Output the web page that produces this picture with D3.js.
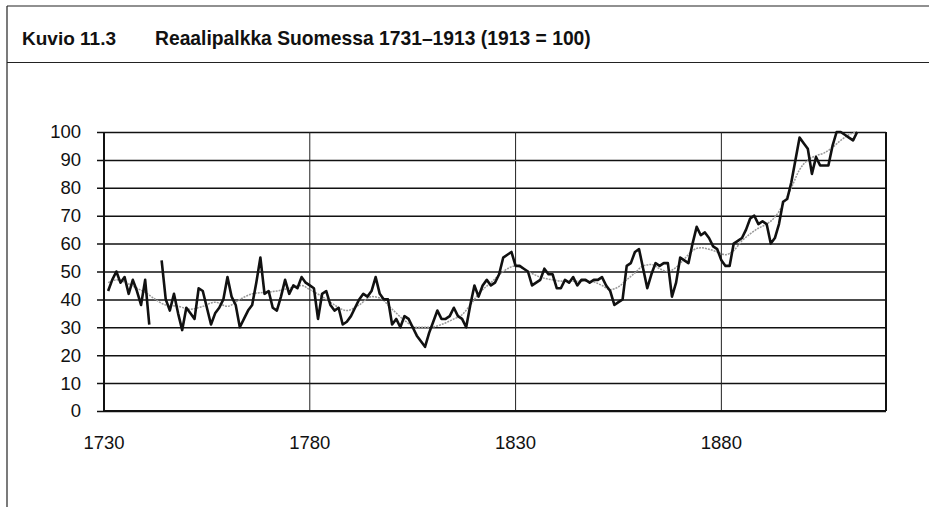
<!DOCTYPE html>
<html>
<head>
<meta charset="utf-8">
<script src="https://cdn.jsdelivr.net/npm/d3@7"></script>
<style>
  body { margin: 0; background: white; }
  svg { display: block; }
</style>
</head>
<body>
<script>
const svg_width = 929;
const svg_height = 507;
const font_family = "'Liberation Sans', Arial, sans-serif";

const figure_label = 'Kuvio 11.3';
const figure_title = 'Reaalipalkka Suomessa 1731–1913 (1913 = 100)';

const start_year = 1731;
// real wage index, 1913 = 100 (null = no data)
const wages = [
    43, 47, 50, 46, 48, 42, 47, 43, 38, 47,       // 1731-1740
    31, null, null, 54, 40, 36, 42, 35, 29, 37,   // 1741-1750
    35, 33, 44, 43, 37, 31, 35, 37, 40, 48,       // 1751-1760
    41, 38, 30, 33, 36, 38, 46, 55, 42, 43,       // 1761-1770
    37, 36, 41, 47, 42, 45, 44, 48, 46, 45,       // 1771-1780
    44, 33, 42, 43, 38, 36, 37, 31, 32, 34,       // 1781-1790
    37, 40, 42, 41, 43, 48, 42, 40, 40, 31,       // 1791-1800
    33, 30, 34, 33, 30, 27, 25, 23, 28, 32,       // 1801-1810
    36, 33, 33, 34, 37, 34, 33, 30, 38, 45,       // 1811-1820
    41, 45, 47, 45, 46, 49, 55, 56, 57, 52,       // 1821-1830
    52, 51, 50, 45, 46, 47, 51, 49, 49, 44,       // 1831-1840
    44, 47, 46, 48, 45, 47, 47, 46, 47, 47,       // 1841-1850
    48, 45, 43, 38, 39, 40, 52, 53, 57, 58,       // 1851-1860
    51, 44, 49, 53, 52, 53, 53, 41, 46, 55,       // 1861-1870
    54, 53, 60, 66, 63, 64, 62, 59, 58, 54,       // 1871-1880
    52, 52, 60, 61, 62, 65, 69, 70, 67, 68,       // 1881-1890
    67, 60, 62, 67, 75, 76, 82, 90, 98, 96,       // 1891-1900
    94, 85, 91, 88, 88, 88, 95, 100, 100, 99,     // 1901-1910
    98, 97, 100                                   // 1911-1913
];

// smoothed trend (thin grey line)
const trend_years = [1731, 1733, 1736, 1738, 1740, 1742, 1745, 1748, 1751, 1754, 1757, 1760, 1763, 1766, 1769,
    1772, 1775, 1778, 1780, 1783, 1786, 1789, 1792, 1795, 1797, 1800, 1803, 1806, 1809, 1812, 1815, 1817,
    1819, 1821, 1824, 1827, 1830, 1833, 1836, 1839, 1842, 1845, 1848, 1851, 1853, 1855, 1857, 1859, 1861,
    1863, 1865, 1867, 1869, 1871, 1873, 1875, 1877, 1879, 1881, 1883, 1885, 1887, 1889, 1891, 1893, 1895,
    1897, 1899, 1901, 1903, 1905, 1907, 1909, 1911, 1913];
const trend_values = [46, 47, 45.5, 44, 42.5, 40.5, 38, 37.5, 36.5, 37.5, 39, 37.5, 40, 42, 42.5,
    43, 44, 45, 43.5, 41, 38, 36, 38, 41, 40.5, 36.5, 32.5, 30, 30, 31, 33, 34.5,
    38, 42, 46, 50, 52, 50, 48, 47, 46.5, 46.5, 46.5, 45, 43.5, 44.5, 47, 49.5, 52,
    52.5, 51, 50, 51.5, 54.5, 57.5, 58.5, 58, 57, 56, 57.5, 61, 63.5, 65.5, 67, 69.5, 74,
    80, 86.5, 90, 91.5, 92.5, 94.5, 97, 99, 100];

const y_ticks = [0, 10, 20, 30, 40, 50, 60, 70, 80, 90, 100];
const x_ticks = [1730, 1780, 1830, 1880];

const plot = {left: 104, right: 886, top: 132, bottom: 411};

const x = d3.scaleLinear().domain([1730, 1920]).range([plot.left, plot.right]);
const y = d3.scaleLinear().domain([0, 100]).range([plot.bottom, plot.top]);

const svg = d3.select('body')
    .append('svg')
    .attr('width', svg_width)
    .attr('height', svg_height);

svg.append('rect')
    .attr('width', svg_width)
    .attr('height', svg_height)
    .attr('fill', 'white');

// frame of the figure box
const frame = svg.append('g').attr('stroke', '#222').attr('fill', 'none');
frame.append('line').attr('x1', 7).attr('x2', svg_width).attr('y1', 6).attr('y2', 6).attr('stroke-width', 1.2);
frame.append('line').attr('x1', 7).attr('x2', svg_width).attr('y1', 62.5).attr('y2', 62.5).attr('stroke-width', 1.2);
frame.append('line').attr('x1', 7).attr('x2', 7).attr('y1', 6).attr('y2', svg_height).attr('stroke-width', 1.2);

svg.append('text')
    .attr('x', 22)
    .attr('y', 45)
    .attr('font-family', font_family)
    .attr('font-size', 19)
    .attr('font-weight', 'bold')
    .attr('fill', '#111')
    .text(figure_label);

svg.append('text')
    .attr('x', 155)
    .attr('y', 45)
    .attr('font-family', font_family)
    .attr('font-size', 19.3)
    .attr('font-weight', 'bold')
    .attr('fill', '#111')
    .text(figure_title);

// horizontal grid with outer ticks
const y_axis = svg.append('g')
    .attr('transform', `translate(${plot.left}, 0)`)
    .call(d3.axisLeft(y)
        .tickValues(y_ticks)
        .tickSize(-(plot.right - plot.left))
        .tickPadding(23)
        .tickFormat(d3.format('d')));
y_axis.select('.domain').remove();
y_axis.selectAll('.tick line')
    .attr('x1', -7)
    .attr('stroke', '#111')
    .attr('stroke-width', 1.5);
y_axis.selectAll('.tick text')
    .attr('font-family', font_family)
    .attr('font-size', 18.5)
    .attr('fill', '#111');

// vertical grid lines
svg.append('g')
    .selectAll('line')
    .data(x_ticks.slice(1))
    .enter()
    .append('line')
    .attr('x1', d => x(d))
    .attr('x2', d => x(d))
    .attr('y1', plot.top)
    .attr('y2', plot.bottom)
    .attr('stroke', '#222')
    .attr('stroke-width', 1);

// x labels
svg.append('g')
    .selectAll('text')
    .data(x_ticks)
    .enter()
    .append('text')
    .attr('x', d => x(d))
    .attr('y', 449)
    .attr('text-anchor', 'middle')
    .attr('font-family', font_family)
    .attr('font-size', 18.5)
    .attr('fill', '#111')
    .text(d => d);

// plot borders
svg.append('line')
    .attr('x1', plot.left).attr('x2', plot.left)
    .attr('y1', plot.top).attr('y2', plot.bottom)
    .attr('stroke', '#111').attr('stroke-width', 2);
svg.append('line')
    .attr('x1', plot.right).attr('x2', plot.right)
    .attr('y1', plot.top).attr('y2', plot.bottom)
    .attr('stroke', '#111').attr('stroke-width', 2);
svg.append('line')
    .attr('x1', plot.left).attr('x2', plot.right)
    .attr('y1', plot.bottom).attr('y2', plot.bottom)
    .attr('stroke', '#111').attr('stroke-width', 2);

const trend_data = trend_years.map((yr, i) => ({year: yr, value: trend_values[i]}));
const wage_data = wages.map((v, i) => ({year: start_year + i, value: v}));

svg.append('path')
    .datum(trend_data)
    .attr('fill', 'none')
    .attr('stroke', '#999')
    .attr('stroke-width', 1.5)
    .attr('stroke-dasharray', '2,1')
    .attr('d', d3.line()
        .curve(d3.curveMonotoneX)
        .x(d => x(d.year))
        .y(d => y(d.value)));

svg.append('path')
    .datum(wage_data)
    .attr('fill', 'none')
    .attr('stroke', '#111')
    .attr('stroke-width', 2.6)
    .attr('stroke-linejoin', 'round')
    .attr('d', d3.line()
        .defined(d => d.value !== null)
        .x(d => x(d.year))
        .y(d => y(d.value)));
</script>
</body>
</html>
